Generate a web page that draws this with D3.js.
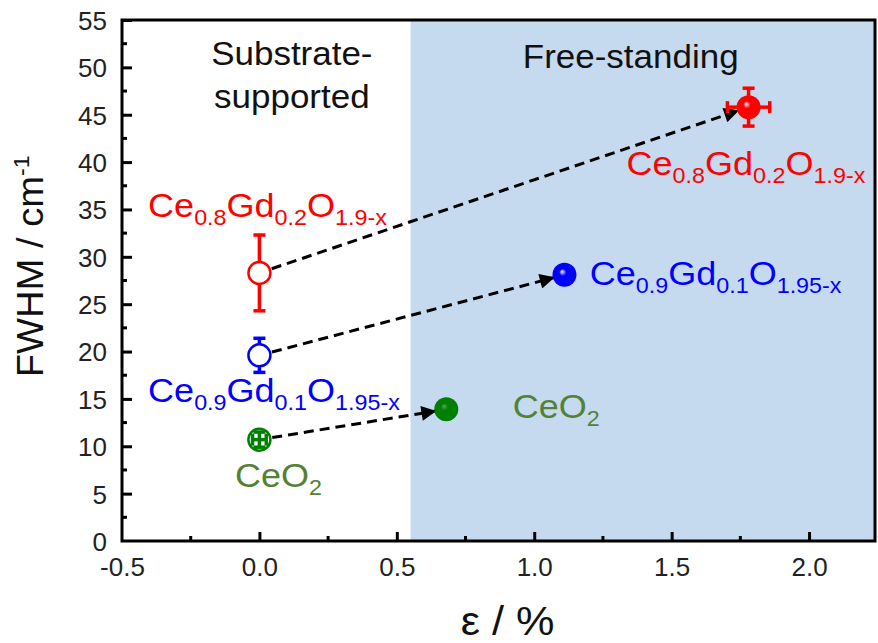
<!DOCTYPE html>
<html>
<head>
<meta charset="utf-8">
<script src="https://cdn.jsdelivr.net/npm/d3@7"></script>
<style>
  body { margin: 0; background: #fff; }
  text { font-family: Arial, "Liberation Sans", sans-serif; }
</style>
</head>
<body>
<div id="chart"></div>
<script>
const width = 878;
const height = 643;
const margin = { top: 20, right: 3, bottom: 102, left: 122 };

// data: strain (%) and FWHM (cm-1) with error bars
const samples = ['CeO2', 'CGO10', 'CGO20'];
const colours = ['#008000', '#0000ff', '#ff0000'];
const labelColours = ['#548235', '#0000ff', '#ff0000'];
const supportedX = [0, 0, 0];
const supportedY = [10.7, 19.6, 28.3];
const supportedXErr = [0.025, 0, 0];
const supportedYErr = [0.8, 1.8, 4.0];
const freeX = [0.68, 1.11, 1.78];
const freeY = [13.9, 28.1, 45.8];
const freeXErr = [0, 0, 0.077];
const freeYErr = [0, 0, 2.0];

const xTicks = [-0.5, 0.0, 0.5, 1.0, 1.5, 2.0];
const yTicks = [0, 5, 10, 15, 20, 25, 30, 35, 40, 45, 50, 55];
const shadeStart = 0.55;

// formula labels: [sample index, x, y, parts]
const formulaLabels = [
  [2, -0.405, 34.2, [['Ce', 0], ['0.8', 1], ['Gd', 0], ['0.2', 1], ['O', 0], ['1.9-x', 1]]],
  [2, 1.336, 38.6, [['Ce', 0], ['0.8', 1], ['Gd', 0], ['0.2', 1], ['O', 0], ['1.9-x', 1]]],
  [1, -0.405, 14.7, [['Ce', 0], ['0.9', 1], ['Gd', 0], ['0.1', 1], ['O', 0], ['1.95-x', 1]]],
  [1, 1.202, 27.0, [['Ce', 0], ['0.9', 1], ['Gd', 0], ['0.1', 1], ['O', 0], ['1.95-x', 1]]],
  [0, -0.089, 5.7, [['CeO', 0], ['2', 1]]],
  [0, 0.922, 13.0, [['CeO', 0], ['2', 1]]]
];

const svg = d3.select('#chart')
  .append('svg')
  .attr('width', width)
  .attr('height', height);

const x = d3.scaleLinear().domain([-0.5, 2.24]).range([margin.left, width - margin.right]);
const y = d3.scaleLinear().domain([0, 55]).range([height - margin.bottom, margin.top]);

// shaded free-standing region
svg.append('rect')
  .attr('x', x(shadeStart))
  .attr('y', y(55))
  .attr('width', x.range()[1] - x(shadeStart))
  .attr('height', y(0) - y(55))
  .attr('fill', '#c5daee');

// gradient fills for the solid markers
const defs = svg.append('defs');
colours.forEach((c, i) => {
  const grad = defs.append('radialGradient')
    .attr('id', `shine${i}`)
    .attr('cx', '0.5').attr('cy', '0.5').attr('r', '0.5')
    .attr('fx', '0.4').attr('fy', '0.36');
  grad.append('stop').attr('offset', '0').attr('stop-color', i === 0 ? '#5aa65a' : '#ffffff');
  grad.append('stop').attr('offset', '0.3').attr('stop-color', c);
  grad.append('stop').attr('offset', '1').attr('stop-color', c);
});

defs.append('marker')
  .attr('id', 'arrow')
  .attr('viewBox', '0 0 10 10')
  .attr('refX', 10).attr('refY', 5)
  .attr('markerWidth', 6).attr('markerHeight', 5)
  .attr('markerUnits', 'strokeWidth')
  .attr('orient', 'auto')
  .append('path')
  .attr('d', 'M0,0 L10,5 L0,10 z')
  .attr('fill', '#000');

// axes, ticks inside
const fmt = d => d3.format('.1f')(d).replace('−', '-');
const xAxis = d3.axisBottom(x).tickValues(xTicks).tickFormat(fmt).tickSize(-9).tickPadding(17);
const yAxis = d3.axisLeft(y).tickValues(yTicks).tickSize(-10).tickPadding(15);

const gx = svg.append('g').attr('transform', `translate(0,${y(0)})`).call(xAxis);
const gy = svg.append('g').attr('transform', `translate(${x(-0.5)},0)`).call(yAxis);
[gx, gy].forEach(g => {
  g.select('.domain').remove();
  g.selectAll('.tick line').attr('stroke', '#000').attr('stroke-width', 3);
  g.selectAll('.tick text').attr('fill', '#222').attr('font-size', 26)
    .attr('font-family', 'Arial, "Liberation Sans", sans-serif');
});
gx.selectAll('.tick').filter(d => d === -0.5).select('line').remove();
gy.selectAll('.tick').filter(d => d === 0).select('line').remove();
gy.selectAll('.tick text').attr('dy', '0.36em');

// minor ticks
const xMinor = d3.range(-0.25, 2.2, 0.5);
svg.append('g').selectAll('line').data(xMinor).join('line')
  .attr('x1', d => x(d)).attr('x2', d => x(d))
  .attr('y1', y(0)).attr('y2', y(0) - 5)
  .attr('stroke', '#000').attr('stroke-width', 3);
const yMinor = d3.range(2.5, 55, 5);
svg.append('g').selectAll('line').data(yMinor).join('line')
  .attr('x1', x(-0.5)).attr('x2', x(-0.5) + 5)
  .attr('y1', d => y(d)).attr('y2', d => y(d))
  .attr('stroke', '#000').attr('stroke-width', 3);

// frame
svg.append('rect')
  .attr('x', x.range()[0]).attr('y', y(55))
  .attr('width', x.range()[1] - x.range()[0])
  .attr('height', y(0) - y(55))
  .attr('fill', 'none').attr('stroke', '#000').attr('stroke-width', 3);

// region titles
function plainText(px, py, str, size, sx) {
  svg.append('text')
    .attr('transform', `translate(${px},${py}) scale(${sx},1)`)
    .attr('text-anchor', 'middle')
    .attr('font-size', size)
    .attr('fill', '#111')
    .text(str);
}
plainText(x(0.118), y(50.25), 'Substrate-', 33, 1.06);
plainText(x(0.118), y(45.7), 'supported', 33, 1.06);
plainText(x(1.351), y(49.9), 'Free-standing', 33, 1.06);

// axis titles
svg.append('text')
  .attr('transform', `translate(${x(0.903)},${height - 8}) scale(1.08,1)`)
  .attr('text-anchor', 'middle')
  .attr('font-size', 40)
  .attr('fill', '#111')
  .text('ε / %');

const yTitle = svg.append('text')
  .attr('transform', `translate(43,${y(29)}) rotate(-90) scale(1.06,1)`)
  .attr('text-anchor', 'middle')
  .attr('font-size', 36)
  .attr('fill', '#111');
yTitle.append('tspan').text('FWHM / cm');
yTitle.append('tspan').attr('font-size', 22).attr('dy', -14).text('-1');

// dashed arrows between the two states
const r = 11;
samples.forEach((s, i) => {
  const x0 = x(supportedX[i]), y0 = y(supportedY[i]);
  const x1 = x(freeX[i]), y1 = y(freeY[i]);
  const len = Math.hypot(x1 - x0, y1 - y0);
  const ux = (x1 - x0) / len, uy = (y1 - y0) / len;
  svg.append('line')
    .attr('x1', x0 + ux * (r + 2)).attr('y1', y0 + uy * (r + 2))
    .attr('x2', x1 - ux * (r - 1)).attr('y2', y1 - uy * (r - 1))
    .attr('stroke', '#000')
    .attr('stroke-width', 3)
    .attr('stroke-dasharray', '10,6')
    .attr('marker-end', 'url(#arrow)');
});

// error bars: drawn outside the symbol unless they fit inside it
function errorBars(cx, cy, dxPix, dyPix, colour) {
  const g = svg.append('g').attr('stroke', colour).attr('stroke-width', 3.5);
  const cap = 6;
  if (dyPix > 0) {
    if (dyPix > r) {
      g.append('line').attr('x1', cx).attr('x2', cx).attr('y1', cy - dyPix).attr('y2', cy - r);
      g.append('line').attr('x1', cx).attr('x2', cx).attr('y1', cy + r).attr('y2', cy + dyPix);
    } else {
      g.append('line').attr('x1', cx).attr('x2', cx).attr('y1', cy - dyPix).attr('y2', cy + dyPix);
    }
    g.append('line').attr('x1', cx - cap).attr('x2', cx + cap).attr('y1', cy - dyPix).attr('y2', cy - dyPix);
    g.append('line').attr('x1', cx - cap).attr('x2', cx + cap).attr('y1', cy + dyPix).attr('y2', cy + dyPix);
  }
  if (dxPix > 0) {
    if (dxPix > r) {
      g.append('line').attr('y1', cy).attr('y2', cy).attr('x1', cx - dxPix).attr('x2', cx - r);
      g.append('line').attr('y1', cy).attr('y2', cy).attr('x1', cx + r).attr('x2', cx + dxPix);
    } else {
      g.append('line').attr('y1', cy).attr('y2', cy).attr('x1', cx - dxPix).attr('x2', cx + dxPix);
    }
    g.append('line').attr('y1', cy - cap).attr('y2', cy + cap).attr('x1', cx - dxPix).attr('x2', cx - dxPix);
    g.append('line').attr('y1', cy - cap).attr('y2', cy + cap).attr('x1', cx + dxPix).attr('x2', cx + dxPix);
  }
}

samples.forEach((s, i) => {
  // substrate-supported: open symbols
  const cx = x(supportedX[i]), cy = y(supportedY[i]);
  svg.append('circle')
    .attr('cx', cx).attr('cy', cy).attr('r', r)
    .attr('fill', '#fff')
    .attr('stroke', colours[i]).attr('stroke-width', 2.5);
  errorBars(cx, cy, x(supportedX[i] + supportedXErr[i]) - cx,
    cy - y(supportedY[i] + supportedYErr[i]), colours[i]);

  // free-standing: solid symbols
  const fx = x(freeX[i]), fy = y(freeY[i]);
  errorBars(fx, fy, x(freeX[i] + freeXErr[i]) - fx,
    fy - y(freeY[i] + freeYErr[i]), colours[i]);
  svg.append('circle')
    .attr('cx', fx).attr('cy', fy).attr('r', r + 1)
    .attr('fill', `url(#shine${i})`);
});

// formula labels with subscripts
formulaLabels.forEach(([idx, lx, ly, parts]) => {
  const t = svg.append('text')
    .attr('transform', `translate(${x(lx)},${y(ly)}) scale(1.06,1)`)
    .attr('font-size', 34)
    .attr('fill', labelColours[idx]);
  let sub = false;
  parts.forEach(([str, isSub]) => {
    const span = t.append('tspan').text(str);
    if (isSub && !sub) span.attr('dy', 8).attr('font-size', 22);
    else if (isSub) span.attr('font-size', 22);
    else if (sub) span.attr('dy', -8);
    sub = !!isSub;
  });
});
</script>
</body>
</html>
